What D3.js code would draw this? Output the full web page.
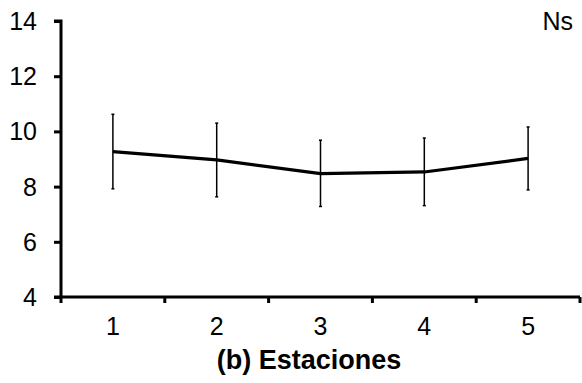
<!DOCTYPE html>
<html>
<head>
<meta charset="utf-8">
<script src="https://cdn.jsdelivr.net/npm/d3@7"></script>
<style>
  body { margin: 0; background: #fff; }
  text { font-family: "Liberation Sans", Arial, sans-serif; fill: #000; }
</style>
</head>
<body>
<div id="vis"></div>
<script>
// data
var stations = ["1", "2", "3", "4", "5"];
var means = [9.27, 8.97, 8.47, 8.53, 9.02];
var upper = [10.62, 10.3, 9.68, 9.76, 10.16];
var lower = [7.92, 7.63, 7.28, 7.31, 7.88];
var yTicks = [4, 6, 8, 10, 12, 14];

var width = 582, height = 383;
var margin = {left: 61, right: 2, top: 21, bottom: 86};

var svg = d3.select("#vis").append("svg")
  .attr("width", width)
  .attr("height", height);

var x = d3.scaleBand()
  .domain(stations)
  .range([margin.left, width - margin.right]);

var y = d3.scaleLinear()
  .domain([4, 14])
  .range([height - margin.bottom, margin.top]);

var rows = stations.map(function(s, i) {
  return {s: s, m: means[i], hi: upper[i], lo: lower[i]};
});

// y axis
var yAxis = svg.append("g")
  .attr("transform", "translate(" + margin.left + ",0)")
  .call(d3.axisLeft(y).tickValues(yTicks).tickSize(7).tickPadding(17));
yAxis.select(".domain").attr("stroke-width", 3).attr("d", "M-7," + y(14) + "H0V" + y(4));
yAxis.selectAll(".tick line").attr("stroke-width", 3);
yAxis.selectAll(".tick text").style("font-size", "25px").attr("dy", "0.34em");

// x axis, ticks sit between the categories
var xAxis = svg.append("g")
  .attr("transform", "translate(0," + y(4) + ")")
  .call(d3.axisBottom(x).tickSize(0).tickPadding(20));
xAxis.select(".domain").attr("stroke-width", 3).attr("d", "M" + (margin.left - 7) + ",0H" + (width - margin.right));
xAxis.selectAll(".tick text").style("font-size", "25px").attr("dy", "0.7em");

svg.append("g").selectAll("line")
  .data(d3.range(stations.length + 1))
  .enter().append("line")
  .attr("x1", function(i) { return margin.left + x.bandwidth() * i; })
  .attr("x2", function(i) { return margin.left + x.bandwidth() * i; })
  .attr("y1", y(4))
  .attr("y2", y(4) + 6)
  .attr("stroke", "#000")
  .attr("stroke-width", 3);

function cx(d) { return x(d.s) + x.bandwidth() / 2; }

// error bars
var err = svg.append("g").selectAll("g")
  .data(rows)
  .enter().append("g");
err.append("line")
  .attr("x1", cx).attr("x2", cx)
  .attr("y1", function(d) { return y(d.hi); })
  .attr("y2", function(d) { return y(d.lo); })
  .attr("stroke", "#000").attr("stroke-width", 1.5);
err.append("line")
  .attr("x1", function(d) { return cx(d) - 1.5; })
  .attr("x2", function(d) { return cx(d) + 1.5; })
  .attr("y1", function(d) { return y(d.hi); })
  .attr("y2", function(d) { return y(d.hi); })
  .attr("stroke", "#000").attr("stroke-width", 1.5);
err.append("line")
  .attr("x1", function(d) { return cx(d) - 1.5; })
  .attr("x2", function(d) { return cx(d) + 1.5; })
  .attr("y1", function(d) { return y(d.lo); })
  .attr("y2", function(d) { return y(d.lo); })
  .attr("stroke", "#000").attr("stroke-width", 1.5);

// mean line
var line = d3.line()
  .x(cx)
  .y(function(d) { return y(d.m); });
svg.append("path")
  .datum(rows)
  .attr("d", line)
  .attr("fill", "none")
  .attr("stroke", "#000")
  .attr("stroke-width", 3.2);

// labels
svg.append("text")
  .attr("x", 309)
  .attr("y", 369)
  .attr("text-anchor", "middle")
  .style("font-size", "27px")
  .style("font-weight", "bold")
  .text("(b) Estaciones");

svg.append("text")
  .attr("x", 573)
  .attr("y", 30)
  .attr("text-anchor", "end")
  .style("font-size", "25px")
  .text("Ns");
</script>
</body>
</html>
